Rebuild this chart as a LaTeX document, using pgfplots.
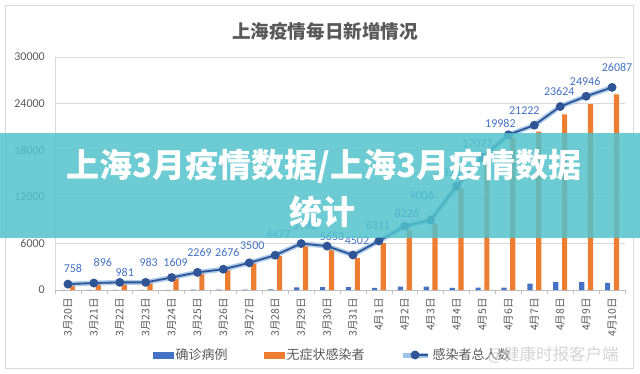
\documentclass[border=0pt]{standalone}
\usepackage{fontspec}
\setmainfont{Carlito}
\newfontfamily\cjk{Noto Sans CJK SC}
\usepackage{pgfplots}
\pgfplotsset{compat=1.18}
\usepackage{pgfplotstable}
\definecolor{cblue}{HTML}{4472C4}
\definecolor{corange}{HTML}{ED7D31}
\definecolor{cdark}{HTML}{2F5597}
\definecolor{cglow}{HTML}{9DC3E6}
\definecolor{ctext}{HTML}{595959}
\definecolor{cgrid}{HTML}{D9D9D9}
\definecolor{caxis}{HTML}{BFBFBF}
\definecolor{cbanner}{RGB}{82,194,203}
\definecolor{clab}{HTML}{4472C4}
\pgfplotstableread{
x c a t dx dy
0 24 734 758 5 16
1 31 865 896 9 21
2 4 977 981 5 10
3 4 979 983 3 20
4 29 1580 1609 4 15
5 38 2231 2269 2 20
6 45 2631 2676 4 17
7 50 3450 3500 3 17
8 96 4381 4477 3 21
9 326 5656 5982 4 18
10 355 5298 5653 5 10
11 358 4144 4502 4 14
12 260 6051 6311 -1 15
13 438 7788 8226 2 13
14 425 8581 9006 -9 25
15 268 13086 13354 -5 14
16 311 16766 17077 -5 14
17 322 19660 19982 -8 11
18 824 20398 21222 -10 15
19 1015 22609 23624 -1 15
20 1006 23937 24946 -1 15
21 914 25173 26087 5 20
}\data
\begin{document}
\begin{tikzpicture}[x=1pt,y=1pt]
\path (0,0) rectangle (640,373);
\draw[cgrid, line width=0.8pt] (5,5) rectangle (633,368);
\node[font=\cjk\bfseries\fontsize{18.6}{20}\selectfont, text=ctext] at (325,342) {上海疫情每日新增情况};
\begin{axis}[
  at={(55pt,83pt)}, anchor=south west,
  width=570pt, height=233pt, scale only axis,
  xmin=-0.5, xmax=21.5, ymin=0, ymax=30000,
  clip=false,
  axis x line=bottom, axis y line=left,
  axis line style={-, draw=cgrid, line width=0.8pt},
  x axis line style={draw=caxis},
  ytick={0,6000,12000,18000,24000,30000},
  scaled y ticks=false,
  ymajorgrids, grid style={cgrid, line width=0.6pt},
  major tick length=0pt,
  /pgf/number format/assume math mode=true,
  /pgf/number format/1000 sep={},
  yticklabel style={anchor=east, inner sep=0pt, font=\fontsize{12}{14}\selectfont, text=ctext, /pgf/number format/fixed},
  yticklabel shift=10pt,
  xtick={0,...,21},
  xticklabels={3月20日,3月21日,3月22日,3月23日,3月24日,3月25日,3月26日,3月27日,3月28日,3月29日,3月30日,3月31日,4月1日,4月2日,4月3日,4月4日,4月5日,4月6日,4月7日,4月8日,4月9日,4月10日},
  xticklabel style={rotate=90, anchor=east, inner sep=0pt, font=\cjk\fontsize{10.5}{12}\selectfont, text=ctext},
  xticklabel shift=8pt,
  extra x ticks={-0.5,0.5,...,21.5},
  extra x tick labels={},
  extra x tick style={major tick length=4pt, tick align=outside, tick style={draw=caxis, line width=0.6pt}},
  legend columns=3,
  legend style={at={(0.487,-0.279)}, anchor=center, draw=none, fill=none,
    font=\cjk\fontsize{13}{15}\selectfont, text=ctext,
    /tikz/every even column/.append style={column sep=34pt}},
  legend cell align=left,
]
\addplot[ybar, bar width=0.2, bar shift=-0.17, fill=cblue, draw=none,
  legend image code/.code={\fill[cblue] (0pt,-3.5pt) rectangle (21pt,3.5pt);}]
  table[x=x, y=c] \data;
\addlegendentry{确诊病例}
\addplot[ybar, bar width=0.2, bar shift=0.17, fill=corange, draw=none,
  legend image code/.code={\fill[corange] (0pt,-3.5pt) rectangle (21pt,3.5pt);}]
  table[x=x, y=a] \data;
\addlegendentry{无症状感染者}
\addplot[cglow, line width=5pt, opacity=0.85, forget plot] table[x=x, y=t] \data;
\addplot[cdark, line width=1.8pt, mark=*, mark size=3.5pt, mark options={fill=cdark, draw=cdark},
  nodes near coords, point meta=explicit symbolic,
  visualization depends on={\thisrow{dx} \as \dx},
  visualization depends on={\thisrow{dy} \as \dy},
  every node near coord/.append style={anchor=center, xshift=\dx pt, yshift=\dy pt, inner sep=0pt, font=\fontsize{12}{14}\selectfont, text=clab},
  legend image code/.code={
    \draw[cglow, line width=5pt] (0pt,0pt)--(25pt,0pt);
    \draw[cdark, line width=1.8pt] (8pt,0pt)--(25pt,0pt);
    \fill[cdark] (12pt,0pt) circle (3.5pt);}]
  table[x=x, y=t, meta=t] \data;
\addlegendentry{感染者总人数}
\end{axis}
\fill[cbanner, opacity=0.85] (0,135) rectangle (640,240);
\node[font=\cjk\bfseries\fontsize{33}{40}\selectfont, text=white] at (324,207) {上海3月疫情数据/上海3月疫情数据};
\node[font=\cjk\bfseries\fontsize{33}{40}\selectfont, text=white] at (322,161) {统计};
\node[font=\cjk\fontsize{16.5}{18}\selectfont, text=gray!40, opacity=0.85, anchor=west] at (484,18) {@健康时报客户端};
\end{tikzpicture}
\end{document}
